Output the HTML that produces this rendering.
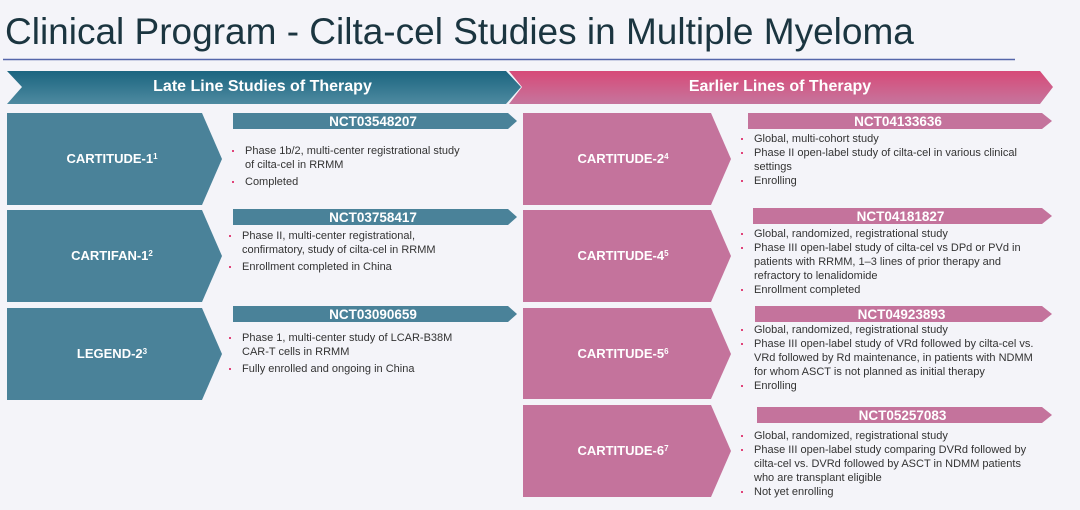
<!DOCTYPE html>
<html><head><meta charset="utf-8"><style>
body{margin:0;width:1080px;height:510px;background:#f4f4f9;position:relative;overflow:hidden;font-family:"Liberation Sans",Arial,sans-serif}
.t{position:absolute;white-space:nowrap}
.title{left:5px;top:11px;font-size:37px;color:#1b3540}
.hd{color:#fff;font-weight:bold;font-size:16px}
.nm{color:#fff;font-weight:bold;font-size:13px;text-align:center}
.bar{color:#fff;font-weight:bold;font-size:13.5px;text-align:center}
.txt{position:absolute;font-size:11px;color:#333;line-height:14px}
.txt div{position:relative;padding-left:16px}
.txt div:before{content:"";position:absolute;left:3px;top:6px;width:2px;height:2px;background:#e0447a}
sup{font-size:8px;vertical-align:4px}
</style></head><body>
<div class="t title">Clinical Program - Cilta-cel Studies in Multiple Myeloma</div>
<svg width="1080" height="510" style="position:absolute;left:0;top:0">
<defs>
<linearGradient id="gb" x1="0" y1="0" x2="0" y2="1"><stop offset="0" stop-color="#1b6580"/><stop offset="1" stop-color="#4e8aa0"/></linearGradient>
<linearGradient id="gp" x1="0" y1="0" x2="0" y2="1"><stop offset="0" stop-color="#d74a78"/><stop offset="1" stop-color="#c6759d"/></linearGradient>
</defs>
<line x1="3" y1="59.5" x2="1015" y2="59.5" stroke="#5566aa" stroke-width="1.5"/>
<polygon points="7,71 506,71 521,87 506,104 7,104 22,87" fill="url(#gb)"/>
<polygon points="509,71 1040,71 1053,87 1040,104 509,104 522,87" fill="url(#gp)"/>
<g fill="#4a8299">
<polygon points="7,113 202,113 222,159 202,205 7,205"/>
<polygon points="7,210 202,210 222,256 202,302 7,302"/>
<polygon points="7,308 202,308 222,354 202,400 7,400"/>
<polygon points="233,113 508,113 517,121 508,129 233,129"/>
<polygon points="233,209 508,209 517,217 508,225 233,225"/>
<polygon points="233,306 508,306 517,314 508,322 233,322"/>
</g>
<g fill="#c4739c">
<polygon points="523,113 711,113 731,159 711,205 523,205"/>
<polygon points="523,210 711,210 731,256 711,302 523,302"/>
<polygon points="523,308 711,308 731,354 711,399 523,399"/>
<polygon points="523,405 711,405 731,451 711,497 523,497"/>
<polygon points="748,113 1042,113 1052,121 1042,129 748,129"/>
<polygon points="753,208 1042,208 1052,216 1042,224 753,224"/>
<polygon points="755,306 1042,306 1052,314 1042,322 755,322"/>
<polygon points="757,407 1042,407 1052,415 1042,423 757,423"/>
</g>
</svg>
<div class="t hd" style="left:0;width:525px;text-align:center;top:78px">Late Line Studies of Therapy</div>
<div class="t hd" style="left:520px;width:520px;text-align:center;top:78px">Earlier Lines of Therapy</div>

<div class="t nm" style="left:7px;width:210px;top:151px">CARTITUDE-1<sup>1</sup></div>
<div class="t nm" style="left:7px;width:210px;top:248px">CARTIFAN-1<sup>2</sup></div>
<div class="t nm" style="left:7px;width:210px;top:346px">LEGEND-2<sup>3</sup></div>
<div class="t nm" style="left:523px;width:200px;top:151px">CARTITUDE-2<sup>4</sup></div>
<div class="t nm" style="left:523px;width:200px;top:248px">CARTITUDE-4<sup>5</sup></div>
<div class="t nm" style="left:523px;width:200px;top:346px">CARTITUDE-5<sup>6</sup></div>
<div class="t nm" style="left:523px;width:200px;top:443px">CARTITUDE-6<sup>7</sup></div>

<div class="t bar" style="left:233px;width:280px;top:114px">NCT03548207</div>
<div class="t bar" style="left:233px;width:280px;top:210px">NCT03758417</div>
<div class="t bar" style="left:233px;width:280px;top:307px">NCT03090659</div>
<div class="t bar" style="left:748px;width:300px;top:114px">NCT04133636</div>
<div class="t bar" style="left:753px;width:295px;top:209px">NCT04181827</div>
<div class="t bar" style="left:755px;width:293px;top:307px">NCT04923893</div>
<div class="t bar" style="left:757px;width:291px;top:408px">NCT05257083</div>

<div class="txt" style="left:229px;top:144px;width:280px">
<div>Phase 1b/2, multi-center registrational study<br>of cilta-cel in RRMM</div>
<div style="margin-top:3px">Completed</div></div>
<div class="txt" style="left:226px;top:229px;width:290px">
<div>Phase II, multi-center registrational,<br>confirmatory, study of cilta-cel in RRMM</div>
<div style="margin-top:3px">Enrollment completed in China</div></div>
<div class="txt" style="left:226px;top:331px;width:290px">
<div>Phase 1, multi-center study of LCAR-B38M<br>CAR-T cells in RRMM</div>
<div style="margin-top:3px">Fully enrolled and ongoing in China</div></div>

<div class="txt" style="left:738px;top:132px;width:330px">
<div>Global, multi-cohort study</div>
<div>Phase II open-label study of cilta-cel in various clinical<br>settings</div>
<div>Enrolling</div></div>
<div class="txt" style="left:738px;top:227px;width:330px">
<div>Global, randomized, registrational study</div>
<div>Phase III open-label study of cilta-cel vs DPd or PVd in<br>patients with RRMM, 1–3 lines of prior therapy and<br>refractory to lenalidomide</div>
<div>Enrollment completed</div></div>
<div class="txt" style="left:738px;top:323px;width:340px">
<div>Global, randomized, registrational study</div>
<div>Phase III open-label study of VRd followed by cilta-cel vs.<br>VRd followed by Rd maintenance, in patients with NDMM<br>for whom ASCT is not planned as initial therapy</div>
<div>Enrolling</div></div>
<div class="txt" style="left:738px;top:429px;width:340px">
<div>Global, randomized, registrational study</div>
<div>Phase III open-label study comparing DVRd followed by<br>cilta-cel vs. DVRd followed by ASCT in NDMM patients<br>who are transplant eligible</div>
<div>Not yet enrolling</div></div>
</body></html>
